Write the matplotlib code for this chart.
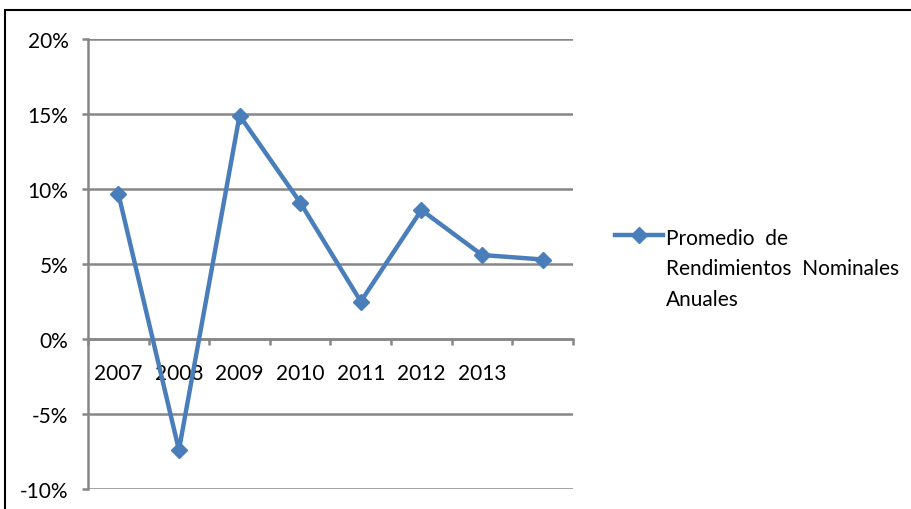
import numpy as np
import matplotlib.pyplot as plt
from matplotlib.patches import Rectangle
from matplotlib.offsetbox import HPacker
from matplotlib.ticker import FixedLocator, FuncFormatter

plt.rcParams['font.family'] = ['Lato', 'DejaVu Sans']

years = ['2007', '2008', '2009', '2010', '2011', '2012', '2013', '']
rendimientos = [9.7, -7.4, 14.9, 9.1, 2.5, 8.6, 5.6, 5.3]
serie = 'Promedio  de\nRendimientos  Nominales\nAnuales'

blue = '#4A7EBB'
grey = '#878787'

fig = plt.figure(figsize=(9.12, 5.10), dpi=100)
ax = fig.add_axes([88 / 912, 20 / 510, 485 / 912, 450 / 510])

x = np.arange(len(rendimientos))
ax.plot(x, rendimientos, color=blue, lw=3.2, marker='D', markersize=8,
        markeredgecolor=blue, label=serie, clip_on=False, zorder=5)

ax.set_xlim(-0.5, len(rendimientos) - 0.5)
ax.set_ylim(-10, 20)
ax.set_yticks(np.arange(-10, 21, 5))
ax.yaxis.set_major_formatter(FuncFormatter(lambda v, pos: f'{v:.0f}%'.replace('\u2212', '-')))
ax.yaxis.grid(True, color=grey, lw=1.8)
ax.set_axisbelow(True)

# category axis sits at 0%, with tick marks between the years
ax.spines['bottom'].set_position(('data', 0))
ax.spines['bottom'].set_color(grey)
ax.spines['bottom'].set_linewidth(1.8)
ax.spines['left'].set_color(grey)
ax.spines['left'].set_linewidth(1.8)
ax.spines['top'].set_visible(False)
ax.spines['right'].set_visible(False)
ax.set_xticks(x)
ax.set_xticklabels(years)
ax.xaxis.set_minor_locator(FixedLocator(np.arange(-0.5, len(rendimientos), 1)))
ax.tick_params(axis='x', which='major', length=0, pad=17, labelsize=15)
ax.tick_params(axis='x', which='minor', length=4.5, width=1.8, color=grey)
ax.tick_params(axis='y', length=4, width=1.8, color=grey, pad=10, labelsize=15)

leg = ax.legend(loc='upper left', bbox_to_anchor=(615 / 912, 1 - 229 / 510),
                bbox_transform=fig.transFigure, frameon=False, fontsize=15,
                handlelength=2.3, handletextpad=0.15, borderpad=0,
                borderaxespad=0)
for t in leg.get_texts():
    t.set_linespacing(1.65)


# keep the legend marker level with the first line of the label
def align_top(box):
    if isinstance(box, HPacker):
        box.align = 'top'
    for child in box.get_children():
        align_top(child)


align_top(leg._legend_handle_box)

fig.patches.append(Rectangle((5 / 912, -0.2), 2, 1.2 - 11 / 510, fill=False,
                             edgecolor='black', lw=1.5, transform=fig.transFigure))

fig.savefig('out.png', dpi=100)
